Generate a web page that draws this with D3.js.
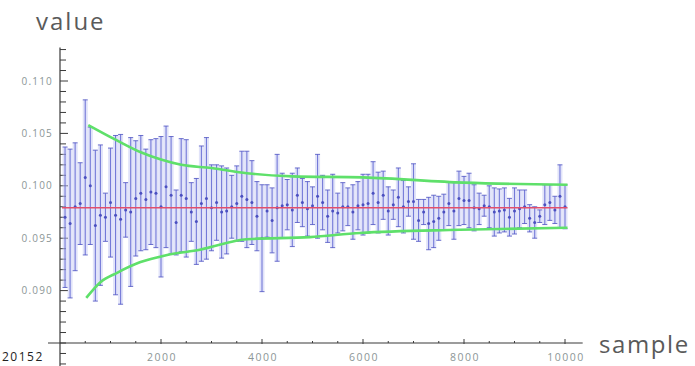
<!DOCTYPE html>
<html>
<head>
<meta charset="utf-8">
<script src="https://cdn.jsdelivr.net/npm/d3@7/dist/d3.min.js"></script>
<style>
  body { margin: 0; background: #fff; }
  svg { display: block; font-family: "Open Sans", "DejaVu Sans", sans-serif; }
</style>
</head>
<body>
<svg id="chart" width="695" height="366"></svg>
<script>
// one error bar every 100 samples
const samples = d3.range(100, 10001, 100);

const means = [
  0.0970, 0.0964, 0.0980, 0.0983, 0.1008, 0.1000, 0.0962, 0.0972, 0.0970, 0.0984,
  0.0972, 0.0968, 0.0977, 0.0975, 0.0988, 0.0993, 0.0987, 0.0994, 0.0993, 0.0980,
  0.0999, 0.0991, 0.0965, 0.0991, 0.0988, 0.0975, 0.0966, 0.0983, 0.0988, 0.0979,
  0.0984, 0.0975, 0.0976, 0.0980, 0.0983, 0.0990, 0.0987, 0.0984, 0.0971, 0.0950,
  0.0976, 0.0967, 0.0979, 0.0981, 0.0982, 0.0977, 0.0991, 0.0984, 0.0978, 0.0981,
  0.0990, 0.0984, 0.0971, 0.0976, 0.0974, 0.0980, 0.0980, 0.0975, 0.0981, 0.0982,
  0.0983, 0.0993, 0.0984, 0.0991, 0.0976, 0.0982, 0.0989, 0.0980, 0.0985, 0.0985,
  0.0967, 0.0975, 0.0964, 0.0966, 0.0969, 0.0975, 0.0983, 0.0976, 0.0988, 0.0986,
  0.0986, 0.0979, 0.0978, 0.0981, 0.0980, 0.0975, 0.0976, 0.0977, 0.0970, 0.0976,
  0.0978, 0.0980, 0.0969, 0.0965, 0.0971, 0.0982, 0.0984, 0.0977, 0.0990, 0.0980
];

const errors = [
  0.0067, 0.0071, 0.0061, 0.0039, 0.0074, 0.0056, 0.0072, 0.0067, 0.0023, 0.0052,
  0.0076, 0.0081, 0.0026, 0.0071, 0.0055, 0.0055, 0.0048, 0.0050, 0.0052, 0.0067,
  0.0058, 0.0056, 0.0031, 0.0054, 0.0056, 0.0028, 0.0041, 0.0055, 0.0058, 0.0041,
  0.0036, 0.0044, 0.0041, 0.0030, 0.0036, 0.0043, 0.0046, 0.0040, 0.0033, 0.0051,
  0.0025, 0.0031, 0.0051, 0.0031, 0.0024, 0.0035, 0.0026, 0.0023, 0.0026, 0.0018,
  0.0040, 0.0026, 0.0025, 0.0035, 0.0019, 0.0023, 0.0018, 0.0026, 0.0023, 0.0029,
  0.0028, 0.0030, 0.0029, 0.0023, 0.0023, 0.0014, 0.0028, 0.0025, 0.0014, 0.0036,
  0.0020, 0.0012, 0.0025, 0.0025, 0.0021, 0.0017, 0.0021, 0.0027, 0.0026, 0.0023,
  0.0026, 0.0022, 0.0015, 0.0010, 0.0020, 0.0023, 0.0021, 0.0021, 0.0018, 0.0022,
  0.0018, 0.0016, 0.0013, 0.0015, 0.0006, 0.0019, 0.0017, 0.0013, 0.0030, 0.0021
];

// green envelope
const upperSamples = [560, 1100, 1600, 2000, 2400, 3000, 3700, 4600, 6000, 8000, 10050];
const upperValues  = [0.1058, 0.1044, 0.1032, 0.1025, 0.1020, 0.1017, 0.1012, 0.1009, 0.1008, 0.1003, 0.1001];
const lowerSamples = [520, 800, 1130, 1580, 2120, 2770, 3700, 4950, 5940, 7920, 10050];
const lowerValues  = [0.0893, 0.0908, 0.0917, 0.0927, 0.0934, 0.0939, 0.0949, 0.0951, 0.0955, 0.0958, 0.0960];

// reference value (red line)
const refSamples = [0, 10050];
const refValue = 0.0979;

const xTicks = [2000, 4000, 6000, 8000, 10000];
const yTicks = [0.090, 0.095, 0.100, 0.105, 0.110];

const svg = d3.select("#chart");

const xScale = d3.scaleLinear().domain([0, 10000]).range([60, 565]);
const yScale = d3.scaleLinear().domain([0.085, 0.110]).range([343, 81]);

const defs = svg.append("defs");
defs.append("filter").attr("id", "soft")
  .append("feGaussianBlur").attr("stdDeviation", 0.45);

// axes
const axisColor = "#3a3a3a";
const axes = svg.append("g").attr("class", "axes");

// y axis line, extends past the x axis to the bottom edge
axes.append("line")
  .attr("x1", xScale(0)).attr("x2", xScale(0))
  .attr("y1", yScale(0.1132)).attr("y2", 366)
  .attr("stroke", axisColor).attr("stroke-width", 1.2);

// x axis line
axes.append("line")
  .attr("x1", 48).attr("x2", xScale(10350))
  .attr("y1", yScale(0.085)).attr("y2", yScale(0.085))
  .attr("stroke", axisColor).attr("stroke-width", 1.2);

// y minor + major ticks (point inwards)
const yMinor = d3.range(83, 114).map(d => d / 1000).filter(v => v <= 0.1132);
axes.selectAll(".ytick")
  .data(yMinor)
  .enter()
  .append("line")
    .attr("class", "ytick")
    .attr("x1", xScale(0))
    .attr("x2", v => xScale(0) + (yTicks.some(t => Math.abs(t - v) < 1e-6) ? 8 : 6))
    .attr("y1", v => yScale(v)).attr("y2", v => yScale(v))
    .attr("stroke", axisColor).attr("stroke-width", 1);

axes.selectAll(".ylabel")
  .data(yTicks)
  .enter()
  .append("text")
    .attr("class", "ylabel")
    .attr("x", 53)
    .attr("y", v => yScale(v) + 3.5)
    .attr("text-anchor", "end")
    .attr("font-size", 10)
    .attr("letter-spacing", 1.2)
    .attr("fill", "#8c9696")
    .text(v => v.toFixed(3));

// x minor + major ticks
const xMinor = d3.range(500, 10001, 500);
axes.selectAll(".xtick")
  .data(xMinor)
  .enter()
  .append("line")
    .attr("class", "xtick")
    .attr("x1", v => xScale(v)).attr("x2", v => xScale(v))
    .attr("y1", v => yScale(0.085) - (xTicks.includes(v) ? 4 : 2))
    .attr("y2", v => yScale(0.085) + (xTicks.includes(v) ? 1 : 0))
    .attr("stroke", axisColor).attr("stroke-width", 1);

axes.selectAll(".xlabel")
  .data(xTicks)
  .enter()
  .append("text")
    .attr("class", "xlabel")
    .attr("x", v => xScale(v) + 1)
    .attr("y", 361)
    .attr("text-anchor", "middle")
    .attr("font-size", 10.5)
    .attr("letter-spacing", 1.5)
    .attr("fill", "#8c9696")
    .text(v => v);

// axis titles
svg.append("text")
  .attr("x", 36).attr("y", 30)
  .attr("font-size", 24)
  .attr("letter-spacing", 2)
  .attr("fill", "#5a5a5a")
  .text("value");

svg.append("text")
  .attr("x", 599).attr("y", 353)
  .attr("font-size", 24)
  .attr("letter-spacing", 1.6)
  .attr("fill", "#5a5a5a")
  .text("sample");

// caption fragment in the corner
svg.append("text")
  .attr("x", 2).attr("y", 361)
  .attr("font-size", 12)
  .attr("letter-spacing", 1.5)
  .attr("fill", "#222")
  .text("20152");

// marks
const marks = svg.append("g").attr("class", "marks").attr("filter", "url(#soft)");
const bars = samples.map((s, i) => ({ sample: s, mean: means[i], err: errors[i] }));

const barGroup = marks.selectAll(".bar")
  .data(bars)
  .enter()
  .append("g")
    .attr("class", "bar");

// light band around each bar (the blurred look of the original)
barGroup.append("rect")
  .attr("x", d => xScale(d.sample) - 2.5)
  .attr("width", 5)
  .attr("y", d => yScale(d.mean + d.err))
  .attr("height", d => yScale(d.mean - d.err) - yScale(d.mean + d.err))
  .attr("fill", "#c3c8f4").attr("fill-opacity", 0.5);

barGroup.append("line")
  .attr("x1", d => xScale(d.sample)).attr("x2", d => xScale(d.sample))
  .attr("y1", d => yScale(d.mean + d.err)).attr("y2", d => yScale(d.mean - d.err))
  .attr("stroke", "#6267d2").attr("stroke-opacity", 0.85).attr("stroke-width", 1.1);

// caps
[1, -1].forEach(sign => {
  barGroup.append("line")
    .attr("x1", d => xScale(d.sample) - 2.5).attr("x2", d => xScale(d.sample) + 2.5)
    .attr("y1", d => yScale(d.mean + sign * d.err)).attr("y2", d => yScale(d.mean + sign * d.err))
    .attr("stroke", "#5358c4").attr("stroke-opacity", 0.85).attr("stroke-width", 1);
});

barGroup.append("circle")
  .attr("cx", d => xScale(d.sample))
  .attr("cy", d => yScale(d.mean))
  .attr("r", 1.5)
  .attr("fill", "#4b50c0");

// red reference line
marks.append("line")
  .attr("x1", xScale(refSamples[0]) + 2).attr("x2", xScale(refSamples[1]))
  .attr("y1", yScale(refValue)).attr("y2", yScale(refValue))
  .attr("stroke", "#e2506c").attr("stroke-width", 1.6);

// green envelope
const line = d3.line()
  .x(d => xScale(d[0]))
  .y(d => yScale(d[1]))
  .curve(d3.curveMonotoneX);

marks.append("path")
  .datum(upperSamples.map((s, i) => [s, upperValues[i]]))
  .attr("d", line)
  .attr("fill", "none").attr("stroke", "#5ee06a").attr("stroke-width", 2.6);

marks.append("path")
  .datum(lowerSamples.map((s, i) => [s, lowerValues[i]]))
  .attr("d", line)
  .attr("fill", "none").attr("stroke", "#5ee06a").attr("stroke-width", 2.6);
</script>
</body>
</html>
